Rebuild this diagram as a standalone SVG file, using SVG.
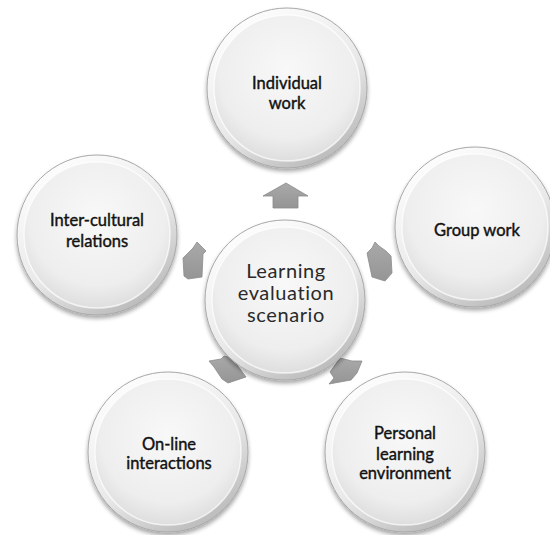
<svg xmlns="http://www.w3.org/2000/svg" xmlns:xlink="http://www.w3.org/1999/xlink" width="550" height="535" viewBox="0 0 550 535">
  <style>
    .lbl { font-family: Lato, "Open Sans", "Liberation Sans", sans-serif; font-size: 16.5px; font-weight: normal; fill: #111111; stroke: #111111; stroke-width: 0.4; text-anchor: middle; }
    .ctr { font-family: Lato, "Open Sans", "Liberation Sans", sans-serif; font-size: 20px; font-weight: normal; fill: #2a2a2a; text-anchor: middle; letter-spacing: 0.6px; }
    .arr { fill: url(#arrg); stroke: #8c8c8c; stroke-width: 0.8; stroke-linejoin: round; }
  </style>
  <defs>
    <linearGradient id="rim" x1="0.2" y1="0" x2="0.8" y2="1">
      <stop offset="0" stop-color="#ffffff"/>
      <stop offset="0.55" stop-color="#e9e9e9"/>
      <stop offset="1" stop-color="#b4b4b4"/>
    </linearGradient>
    <radialGradient id="face" cx="0.5" cy="0.38" r="0.62">
      <stop offset="0" stop-color="#f8f8f8"/>
      <stop offset="0.75" stop-color="#eeeeee"/>
      <stop offset="1" stop-color="#dedede"/>
    </radialGradient>
    <linearGradient id="arrg" x1="0" y1="0" x2="0" y2="1">
      <stop offset="0" stop-color="#a9a9a9"/>
      <stop offset="1" stop-color="#959595"/>
    </linearGradient>
    <filter id="sh" x="-20%" y="-20%" width="140%" height="150%">
      <feGaussianBlur in="SourceAlpha" stdDeviation="2"/>
      <feOffset dx="0" dy="3" result="b"/>
      <feComponentTransfer><feFuncA type="linear" slope="0.35"/></feComponentTransfer>
      <feMerge><feMergeNode/><feMergeNode in="SourceGraphic"/></feMerge>
    </filter>
    <g id="bubble">
      <circle r="80" fill="url(#rim)" stroke="#a8a8a8" stroke-width="1" filter="url(#sh)"/>
      <circle r="73" fill="url(#face)"/>
      <circle r="73" fill="none" stroke="#ffffff" stroke-opacity="0.7" stroke-width="1.5"/>
    </g>
  </defs>

  <rect width="550" height="535" fill="#ffffff"/>

  <g id="connectors">
    <polygon class="arr" points="286,183 308,196 298,196 298,208 273,208 273,196 263,196"/>
    <polygon class="arr" points="197,242 206,251 203,254 202,277 188,279 184,276 183,258 186,255 193,248"/>
    <polygon class="arr" points="375,242 379,246 386,251 391,256 392,273 385,281 372,277 367,253 372,248"/>
    <polygon class="arr" points="209,361 221,359 224,356 232,358 243,373 246,377 240,379 228,383 222,379 214,367"/>
    <polygon class="arr" points="340,358 352,361 362,361 357,373 351,380 329,384 334,378 330,372"/>
  </g>

  <g id="individual-work" transform="translate(287,88)">
    <use xlink:href="#bubble" href="#bubble"/>
    <text class="lbl" x="0" y="1">Individual</text>
    <text class="lbl" x="0" y="21">work</text>
  </g>

  <g id="inter-cultural" transform="translate(97,235)">
    <use xlink:href="#bubble" href="#bubble"/>
    <text class="lbl" x="0" y="-9">Inter-cultural</text>
    <text class="lbl" x="0" y="12">relations</text>
  </g>

  <g id="group-work" transform="translate(475,227)">
    <use xlink:href="#bubble" href="#bubble"/>
    <text class="lbl" x="2" y="9">Group work</text>
  </g>

  <g id="center" transform="translate(285,300)">
    <use xlink:href="#bubble" href="#bubble"/>
    <text class="ctr" x="1" y="-22">Learning</text>
    <text class="ctr" x="1" y="0">evaluation</text>
    <text class="ctr" x="1" y="22">scenario</text>
  </g>

  <g id="on-line" transform="translate(168,452)">
    <use xlink:href="#bubble" href="#bubble"/>
    <text class="lbl" x="1" y="-2">On-line</text>
    <text class="lbl" x="1" y="17">interactions</text>
  </g>

  <g id="personal" transform="translate(405,452)">
    <use xlink:href="#bubble" href="#bubble"/>
    <text class="lbl" x="0" y="-13">Personal</text>
    <text class="lbl" x="0" y="8">learning</text>
    <text class="lbl" x="0" y="27">environment</text>
  </g>
</svg>
